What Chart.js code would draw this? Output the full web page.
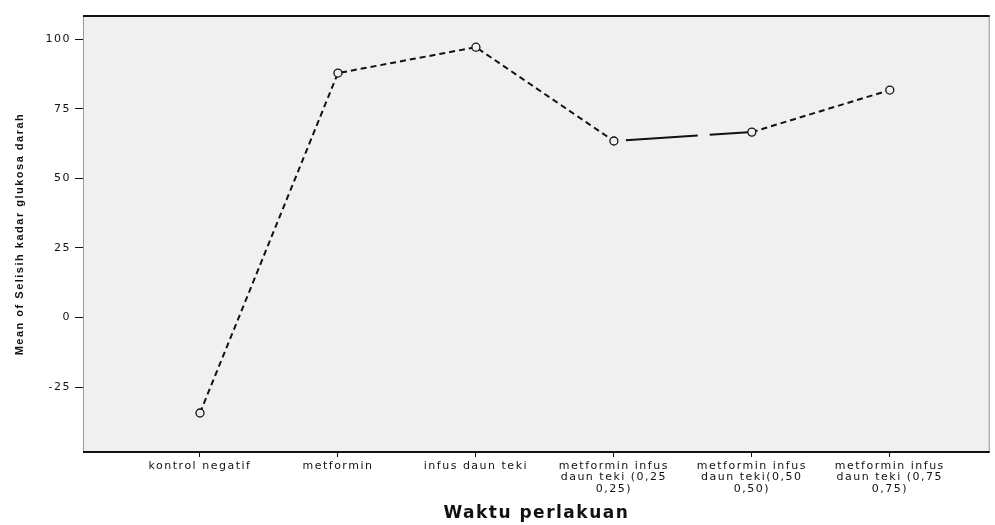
<!DOCTYPE html>
<html>
<head>
<meta charset="utf-8">
<script src="https://cdn.jsdelivr.net/npm/chart.js@4"></script>
<style>
  body { margin: 0; background: #fff; }
  canvas { display: block; }
</style>
</head>
<body>
<canvas id="chart" width="995" height="525"></canvas>
<script>
// data
const categories = [
    'kontrol negatif',
    'metformin',
    'infus daun teki',
    ['metformin infus', 'daun teki (0,25', '0,25)'],
    ['metformin infus', 'daun teki(0,50', '0,50)'],
    ['metformin infus', 'daun teki (0,75', '0,75)']
];
const meanValues = [-34.3, 87.8, 97.1, 63.4, 66.6, 81.7];
const yTicks = [-25, 0, 25, 50, 75, 100];

const positions = categories.map((c, i) => i + 1);

// plot area background + frame
const framePlugin = {
    id: 'frame',
    beforeDraw(chart) {
        const { ctx, chartArea: a } = chart;
        ctx.letterSpacing = '1.5px';
        ctx.save();
        ctx.fillStyle = '#f0f0f0';
        ctx.fillRect(a.left, a.top, a.right - a.left, a.bottom - a.top);
        ctx.restore();
    },
    afterDraw(chart) {
        const { ctx, chartArea: a } = chart;
        ctx.save();
        ctx.strokeStyle = '#999';
        ctx.lineWidth = 1;
        ctx.beginPath();
        ctx.moveTo(a.left + 0.5, a.top);
        ctx.lineTo(a.left + 0.5, a.bottom);
        ctx.moveTo(a.right - 0.5, a.top);
        ctx.lineTo(a.right - 0.5, a.bottom);
        ctx.stroke();
        ctx.strokeStyle = '#111';
        ctx.lineWidth = 2;
        ctx.beginPath();
        ctx.moveTo(a.left, a.top);
        ctx.lineTo(a.right, a.top);
        ctx.moveTo(a.left, a.bottom);
        ctx.lineTo(a.right, a.bottom);
        ctx.stroke();
        ctx.restore();
    }
};

new Chart(document.getElementById('chart'), {
    type: 'line',
    data: {
        datasets: [{
            data: meanValues.map((v, i) => ({ x: positions[i], y: v })),
            borderColor: '#111',
            borderWidth: 2,
            borderDash: [6, 4],
            segment: {
                borderDash: c => c.p0DataIndex === 3 ? [72, 12] : [6, 4],
                borderDashOffset: c => c.p0DataIndex === 3 ? -12 : 0
            },
            pointStyle: 'circle',
            pointRadius: 4,
            pointBorderWidth: 1.3,
            pointBorderColor: '#111',
            pointBackgroundColor: '#f0f0f0',
            tension: 0
        }]
    },
    options: {
        responsive: false,
        animation: false,
        layout: { padding: { top: 16, right: 5, left: 0, bottom: 0 } },
        plugins: {
            legend: { display: false },
            tooltip: { enabled: false }
        },
        scales: {
            x: {
                type: 'linear',
                min: 0.152,
                max: 6.724,
                afterBuildTicks: s => { s.ticks = positions.map(v => ({ value: v })); },
                afterFit: s => { s.height = 73; },
                border: { display: false },
                grid: { drawOnChartArea: false, tickLength: 5, color: '#111' },
                ticks: {
                    autoSkip: false,
                    maxRotation: 0,
                    padding: 3,
                    color: '#111',
                    font: { family: 'DejaVu Sans', size: 11, lineHeight: 1.05 },
                    callback: v => categories[v - 1]
                },
                title: {
                    display: true,
                    text: 'Waktu perlakuan',
                    color: '#111',
                    font: { family: 'DejaVu Sans', size: 17, weight: 'bold' },
                    padding: { top: 0, bottom: 1 }
                }
            },
            y: {
                min: -48.3,
                max: 108.3,
                afterBuildTicks: s => { s.ticks = yTicks.map(v => ({ value: v })); },
                afterFit: s => { s.width = 83; },
                border: { display: false },
                grid: { drawOnChartArea: false, tickLength: 8, color: '#111' },
                ticks: {
                    padding: 4,
                    color: '#111',
                    font: { family: 'DejaVu Sans', size: 11 }
                },
                title: {
                    display: true,
                    text: 'Mean of Selisih kadar glukosa darah',
                    color: '#111',
                    font: { family: 'Liberation Sans', size: 11, weight: 'bold' },
                    padding: { top: 13, bottom: 0 }
                }
            }
        }
    },
    plugins: [framePlugin]
});
</script>
</body>
</html>
